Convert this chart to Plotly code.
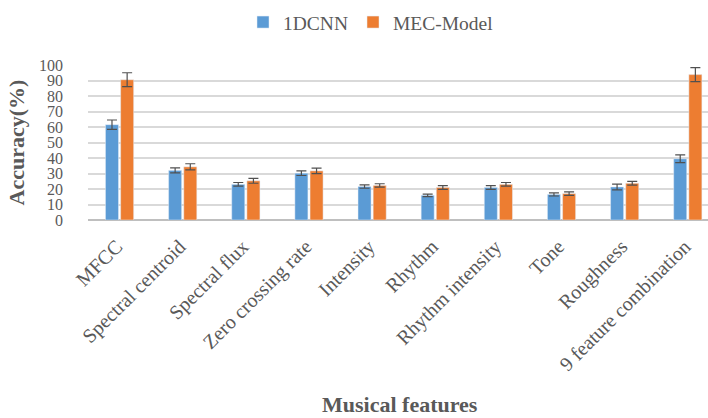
import plotly.graph_objects as go

categories = ["MFCC", "Spectral centroid", "Spectral flux", "Zero crossing rate",
              "Intensity", "Rhythm", "Rhythm intensity", "Tone", "Roughness",
              "9 feature combination"]
cnn_vals = [61.5, 32, 23, 30.2, 21.6, 15.9, 21, 16.5, 21.3, 39.5]
cnn_err = [3, 1.6, 1.2, 1.5, 1.1, 0.8, 1.2, 1.0, 1.8, 2.5]
mec_vals = [90.5, 34.3, 25.3, 31.7, 22.3, 21, 23, 17, 23.7, 93.8]
mec_err = [4.5, 2.0, 1.6, 1.8, 1.1, 1.2, 1.2, 1.1, 1.2, 4.5]
y_ticks = list(range(0, 101, 10))

SERIF = "Liberation Serif, Times New Roman, serif"
GREY = "#595959"

fig = go.Figure()
fig.add_trace(go.Bar(
    name="1DCNN", x=categories, y=cnn_vals,
    marker=dict(color="#5B9BD5"),
    error_y=dict(type="data", array=cnn_err, color="#505050", thickness=1.2, width=5),
))
fig.add_trace(go.Bar(
    name="MEC-Model", x=categories, y=mec_vals,
    marker=dict(color="#ED7D31"),
    error_y=dict(type="data", array=mec_err, color="#505050", thickness=1.2, width=5),
))

fig.update_layout(
    width=708, height=418,
    margin=dict(l=88, r=0, t=65, b=198),
    paper_bgcolor="white", plot_bgcolor="white",
    barmode="group", bargap=0.52, bargroupgap=0.14,
    font=dict(family=SERIF, color=GREY, size=17),
    showlegend=True,
    legend=dict(orientation="h", x=0.25, xanchor="left", y=1.275, yanchor="middle",
                font=dict(family=SERIF, size=19.5, color=GREY),
                itemwidth=30, traceorder="normal"),
    xaxis=dict(
        range=[-0.5, 9.32], tickangle=-45, showgrid=False, ticks="",
        tickfont=dict(family=SERIF, size=20, color=GREY),
        ticklabelstandoff=10, ticklabelshift=-3,
        automargin=False,
        showline=False, zeroline=False,
    ),
    yaxis=dict(
        range=[0, 100], tickvals=y_ticks, showgrid=True, gridcolor="#D9D9D9", gridwidth=1.5,
        zeroline=True, zerolinecolor="#BFBFBF", zerolinewidth=1.5,
        tickfont=dict(family=SERIF, size=16, color=GREY),
        ticklabelstandoff=24, automargin=False,
        title=dict(text="<b>Accuracy(%)</b>", font=dict(family=SERIF, size=22, color=GREY),
                   standoff=8),
    ),
    annotations=[dict(
        text="<b>Musical features</b>", xref="paper", yref="paper",
        x=0.503, y=-1.19, xanchor="center", yanchor="middle", showarrow=False,
        font=dict(family=SERIF, size=22, color=GREY),
    )],
)

fig.write_html("out.html")
